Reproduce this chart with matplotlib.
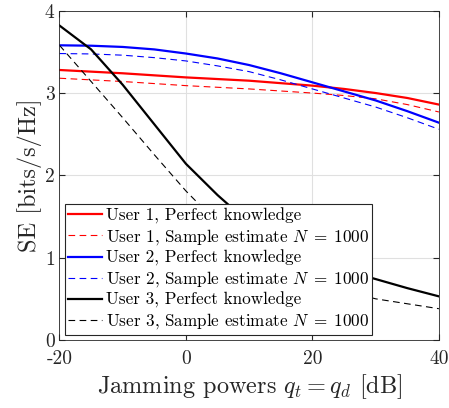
import matplotlib
matplotlib.use('Agg')
import matplotlib.pyplot as plt

plt.rcParams['font.family'] = 'cmr10'
plt.rcParams['mathtext.fontset'] = 'cm'
plt.rcParams['axes.unicode_minus'] = False
plt.rcParams['axes.formatter.use_mathtext'] = False

# jamming power grid [dB]
q_db = [-20, -15, -10, -5, 0, 5, 10, 15, 20, 25, 30, 35, 40]

# SE values
user1_perfect = [3.28, 3.26, 3.24, 3.215, 3.19, 3.17, 3.15, 3.12, 3.09, 3.05, 3.00, 2.94, 2.86]
user1_sample = [3.18, 3.16, 3.14, 3.115, 3.09, 3.07, 3.05, 3.025, 3.00, 2.97, 2.93, 2.86, 2.77]
user2_perfect = [3.58, 3.575, 3.56, 3.53, 3.48, 3.42, 3.34, 3.24, 3.13, 3.02, 2.91, 2.78, 2.64]
user2_sample = [3.48, 3.475, 3.46, 3.43, 3.39, 3.33, 3.26, 3.16, 3.05, 2.94, 2.83, 2.70, 2.56]
user3_perfect = [3.82, 3.53, 3.10, 2.62, 2.14, 1.76, 1.42, 1.17, 0.98, 0.85, 0.74, 0.63, 0.53]
user3_sample = [3.58, 3.14, 2.70, 2.25, 1.81, 1.42, 1.10, 0.87, 0.72, 0.60, 0.50, 0.44, 0.38]

x_ticks = [-20, 0, 20, 40]
y_ticks = [0, 1, 2, 3, 4]

labels = [
    'User 1, Perfect knowledge',
    'User 1, Sample estimate $N\\;=\\;1000$',
    'User 2, Perfect knowledge',
    'User 2, Sample estimate $N\\;=\\;1000$',
    'User 3, Perfect knowledge',
    'User 3, Sample estimate $N\\;=\\;1000$',
]

fig = plt.figure(figsize=(4.49, 4.08), dpi=100)
ax = fig.add_axes([0.1325, 0.1667, 0.845, 0.807])

series = [
    (user1_perfect, 'red', '-'),
    (user1_sample, 'red', '--'),
    (user2_perfect, 'blue', '-'),
    (user2_sample, 'blue', '--'),
    (user3_perfect, 'black', '-'),
    (user3_sample, 'black', '--'),
]
for (vals, color, ls), lab in zip(series, labels):
    lw = 1.6 if ls == '-' else 0.8
    ax.plot(q_db, vals, color=color, linestyle=ls, linewidth=lw, label=lab,
            dashes=(6, 4) if ls == '--' else (None, None))

ax.set_xlim(-20, 40)
ax.set_ylim(0, 4)
ax.set_xticks(x_ticks)
ax.set_xticklabels([str(t) for t in x_ticks])
ax.set_yticks(y_ticks)
ax.set_yticklabels([str(t) for t in y_ticks])
ax.grid(True, color='#e0e0e0', linewidth=0.8)
ax.set_axisbelow(True)
ax.tick_params(direction='in', top=True, right=True, labelsize=14, colors='#262626', length=4)
ax.tick_params(axis='x', pad=7)
for sp in ax.spines.values():
    sp.set_color('#262626')
    sp.set_linewidth(0.6)

ax.set_xlabel('Jamming powers $q_t = q_d$ [dB]', fontsize=17.5, color='#262626', labelpad=3)
ax.set_ylabel('SE [bits/s/Hz]', fontsize=17.5, color='#262626', labelpad=2)

leg = ax.legend(loc='lower left', fontsize=12.3, handlelength=2.0, handletextpad=0.2,
                labelspacing=0.18, borderpad=0.2, borderaxespad=0.3, fancybox=False,
                framealpha=1, edgecolor='#262626')
leg.get_frame().set_linewidth(0.8)

fig.savefig('out.png', dpi=100)
